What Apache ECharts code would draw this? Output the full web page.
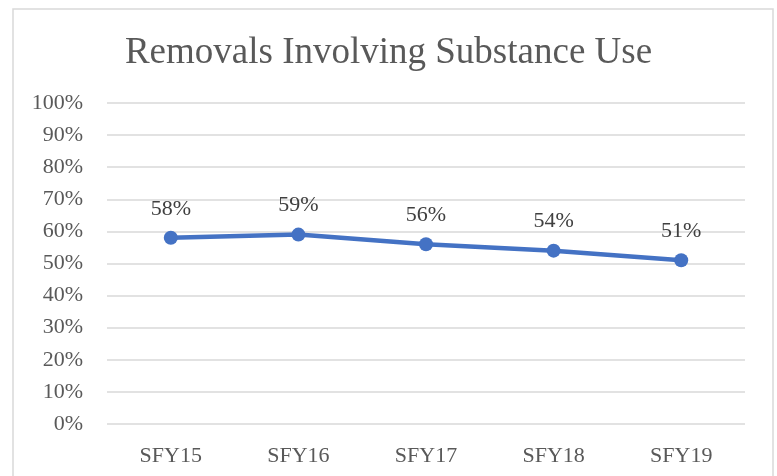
<!DOCTYPE html>
<html>
<head>
<meta charset="utf-8">
<script src="https://cdn.jsdelivr.net/npm/echarts@6/dist/echarts.min.js"></script>
<style>
  html, body { margin: 0; padding: 0; background: #fff; }
  #chart { width: 777px; height: 476px; }
</style>
</head>
<body>
<div id="chart"></div>
<script>
const years = ['SFY15', 'SFY16', 'SFY17', 'SFY18', 'SFY19']
const removals = [58, 59, 56, 54, 51]
const serif = '"Liberation Serif", "Times New Roman", serif'

const myChart = echarts.init(document.getElementById('chart'))

myChart.setOption({
  animation: false,
  backgroundColor: '#fff',
  graphic: [{
    type: 'rect',
    silent: true,
    shape: { x: 13, y: 9, width: 760, height: 480 },
    style: { fill: 'none', stroke: '#d9d9d9', lineWidth: 1.5 }
  }],
  title: {
    text: 'Removals Involving Substance Use',
    left: 'center',
    top: 30,
    textStyle: {
      fontFamily: serif,
      fontSize: 37,
      fontWeight: 'normal',
      color: '#595959'
    }
  },
  grid: { left: 107, right: 32, top: 103, bottom: 52 },
  xAxis: {
    type: 'category',
    data: years,
    axisLine: { show: false },
    axisTick: { show: false },
    axisLabel: {
      margin: 21,
      fontFamily: serif,
      fontSize: 22,
      color: '#595959'
    }
  },
  yAxis: {
    type: 'value',
    min: 0,
    max: 100,
    interval: 10,
    axisLabel: {
      margin: 24,
      formatter: '{value}%',
      fontFamily: serif,
      fontSize: 22,
      color: '#595959'
    },
    splitLine: { lineStyle: { color: '#d9d9d9', width: 1.5 } }
  },
  series: [{
    type: 'line',
    data: removals,
    symbol: 'circle',
    symbolSize: 14,
    itemStyle: { color: '#4472c4' },
    lineStyle: { color: '#4472c4', width: 4.5 },
    label: {
      show: true,
      position: 'top',
      distance: 11,
      formatter: '{c}%',
      fontFamily: serif,
      fontSize: 22,
      color: '#404040'
    }
  }]
})
</script>
</body>
</html>
